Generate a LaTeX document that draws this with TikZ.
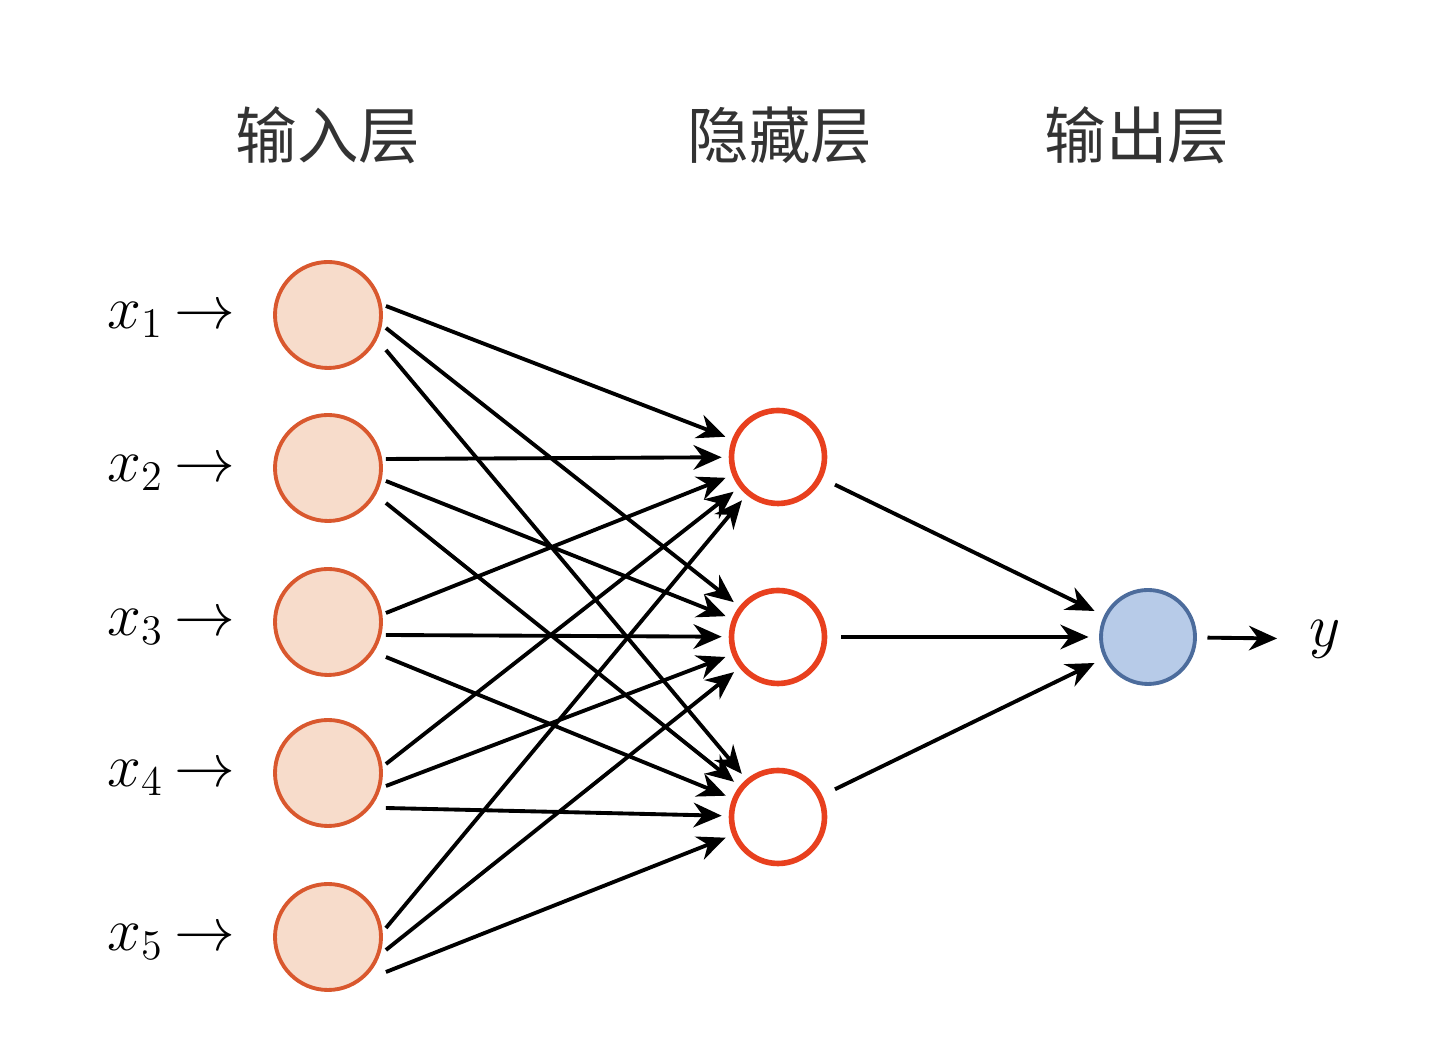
\documentclass[tikz,border=0pt]{standalone}
\usepackage{amsmath}
\usepackage{fontspec}
\newfontfamily\cjk{Noto Sans CJK SC}
\usetikzlibrary{calc, arrows.meta}
\definecolor{inFill}{HTML}{F7DCCB}
\definecolor{inDraw}{HTML}{D9582E}
\definecolor{hidDraw}{HTML}{E8401E}
\definecolor{outFill}{HTML}{B7CBE8}
\definecolor{outDraw}{HTML}{4C6C9C}

\begin{document}
\begin{tikzpicture}[
    innode/.style={circle, draw=inDraw, fill=inFill, line width=1.1pt, minimum size=1.06cm, inner sep=0pt},
    hidnode/.style={circle, draw=hidDraw, fill=white, line width=1.6pt, minimum size=0.93cm, inner sep=0pt},
    outnode/.style={circle, draw=outDraw, fill=outFill, line width=1.1pt, minimum size=0.94cm, inner sep=0pt},
    conn/.style={-{Stealth[length=8pt,width=7pt]}, line width=1.1pt, shorten >=2pt},
    layer/.style={font=\cjk\fontsize{17.5}{20}\selectfont, text=black!80},
    xlab/.style={font=\fontsize{18}{22}\selectfont, inner sep=0pt}
  ]
  \useasboundingbox (0,0) rectangle (14.44,10.40);

  % layer titles
  \node[layer] (tin) at (3.28,9.05) {输入层};
  \node[layer] (thid) at (7.80,9.05) {隐藏层};
  \node[layer] (tout) at (11.37,9.05) {输出层};

  % input layer
  \node[innode] (in1) at (3.28,7.25) {};
  \node[innode] (in2) at (3.28,5.72) {};
  \node[innode] (in3) at (3.28,4.18) {};
  \node[innode] (in4) at (3.28,2.67) {};
  \node[innode] (in5) at (3.28,1.03) {};
  \foreach \i/\yy in {1/7.20, 2/5.67, 3/4.13, 4/2.62, 5/0.98}
    \node[xlab] (x\i) at (1.71,\yy) {$x_{\i}$\,$\rightarrow$};

  % hidden layer
  \node[hidnode] (h1) at (7.78,5.83) {};
  \node[hidnode] (h2) at (7.78,4.03) {};
  \node[hidnode] (h3) at (7.78,2.23) {};

  % output layer
  \node[outnode] (out) at (11.48,4.03) {};
  \node[xlab] (y) at (13.25,4.01) {$y$};

  % every input feeds every hidden node
  \foreach \i in {1,...,5}
    \foreach \j/\dy in {1/0.09, 2/-0.13, 3/-0.35}
      \draw[conn] ($(in\i.east)+(0.03,\dy)$) -- (h\j);
  \foreach \j in {1,2,3}
    \draw[conn, shorten <=4pt, shorten >=3pt] (h\j) -- (out);
  \draw[conn, shorten <=3pt, shorten >=9pt] (out) -- (y);
\end{tikzpicture}
\end{document}
